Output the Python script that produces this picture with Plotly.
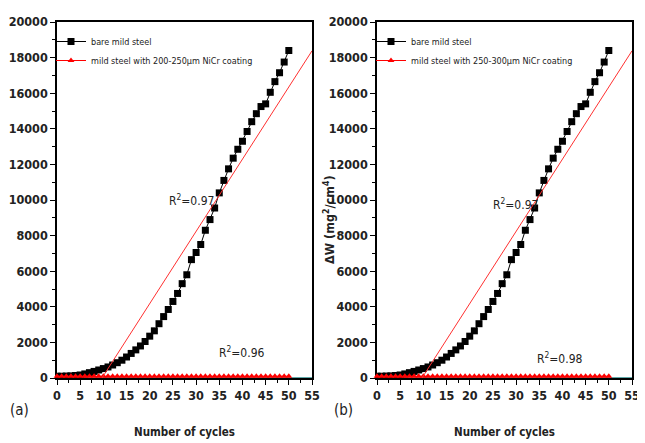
import plotly.graph_objects as go

cycles = list(range(0, 51))
bare = [100, 100, 110, 120, 140, 170, 230, 300, 370, 450,
        530, 620, 730, 860, 1000, 1180, 1380, 1580, 1800, 2050,
        2350, 2650, 3050, 3450, 3850, 4300, 4750, 5300, 5800, 6650,
        7050, 7500, 8300, 8900, 9550, 10400, 11100, 11750, 12350, 12850,
        13300, 13850, 14400, 14850, 15250, 15400, 16050, 16650, 17150, 17750,
        18400]
coated = [100] * 51
fit_bare_x = [9.7, 55]
fit_bare_y = [0, 18380]
fit_coat_x = [0, 55]
fit_coat_y = [0, 0]
labels = ["mild steel with 200-250μm NiCr coating", "mild steel with 250-300μm NiCr coating"]
r2_bare = ["R<sup>2</sup>=0.97", "R<sup>2</sup>=0.97"]
r2_coat = ["R<sup>2</sup>=0.96", "R<sup>2</sup>=0.98"]
r2_bare_pos = [(29, 10000), (29.8, 9800)]
r2_coat_pos = [(40, 1450), (39.5, 1150)]
panel_tags = ["(a)", "(b)"]

FONT = "DejaVu Sans Condensed, Liberation Sans, Arial"
OFF = 8.0  # page body margin
W = 645.0 - OFF
H = 443.0 - OFF


def px(v):
    return (v - OFF) / W


def py(v):
    return 1 - (v - OFF) / H


xdoms = [[px(57), px(312)], [px(377), px(632)]]
ydom = [py(378), py(22)]

fig = go.Figure()
for i in range(2):
    xa = "x" if i == 0 else "x2"
    ya = "y" if i == 0 else "y2"
    lg = "legend" if i == 0 else "legend2"
    fig.add_trace(go.Scatter(x=fit_coat_x, y=fit_coat_y, mode="lines",
                             line=dict(color="#2a8c8c", width=1.5), showlegend=False,
                             xaxis=xa, yaxis=ya, cliponaxis=False))
    fig.add_trace(go.Scatter(x=cycles, y=bare, mode="lines+markers", name="bare mild steel",
                             line=dict(color="black", width=1),
                             marker=dict(symbol="square", size=7, color="black"),
                             xaxis=xa, yaxis=ya, legend=lg))
    fig.add_trace(go.Scatter(x=cycles, y=coated, mode="lines+markers", name=labels[i],
                             line=dict(color="red", width=1),
                             marker=dict(symbol="triangle-up", size=6, color="red"),
                             xaxis=xa, yaxis=ya, legend=lg, cliponaxis=False))
    fig.add_trace(go.Scatter(x=fit_bare_x, y=fit_bare_y, mode="lines",
                             line=dict(color="#ff3030", width=1), showlegend=False,
                             xaxis=xa, yaxis=ya))
    fig.add_annotation(x=r2_bare_pos[i][0], y=r2_bare_pos[i][1], xref=xa, yref=ya,
                       text=r2_bare[i], showarrow=False, xanchor="center",
                       font=dict(family=FONT, size=12, color="#222"))
    fig.add_annotation(x=r2_coat_pos[i][0], y=r2_coat_pos[i][1], xref=xa, yref=ya,
                       text=r2_coat[i], showarrow=False, xanchor="center",
                       font=dict(family=FONT, size=12, color="#222"))
    fig.add_annotation(x=px(20 if i == 0 else 343), y=py(410), xref="paper", yref="paper",
                       text=panel_tags[i], showarrow=False,
                       xanchor="center", yanchor="middle",
                       font=dict(family=FONT, size=15, color="#222"))
    fig.add_annotation(x=(xdoms[i][0] + xdoms[i][1]) / 2, y=py(432), xref="paper", yref="paper",
                       text="<b>Number of cycles</b>", showarrow=False,
                       xanchor="center", yanchor="middle",
                       font=dict(family=FONT, size=11.5, color="#222"))

fig.add_annotation(x=px(329), y=py(220), xref="paper", yref="paper",
                   text="<b>ΔW (mg<sup>2</sup>/cm<sup>4</sup>)</b>", showarrow=False, textangle=-90,
                   xanchor="center", yanchor="middle",
                   font=dict(family=FONT, size=12.5, color="#222"))

axis_common = dict(showline=True, linecolor="black", linewidth=1.5, mirror=True,
                   ticks="outside", ticklen=5, tickwidth=1.2, tickcolor="black",
                   showgrid=False, zeroline=False, automargin=False, layer="below traces",
                   tickfont=dict(family=FONT, size=12.5, color="#222", weight=700))
xaxis_cfg = dict(axis_common, range=[0, 55], dtick=5, tick0=0, tickformat="d",
                 minor=dict(dtick=2.5, ticks="outside", ticklen=3, tickcolor="black"))
yaxis_cfg = dict(axis_common, range=[0, 20000], dtick=2000, tick0=0, tickformat="d",
                 minor=dict(dtick=1000, ticks="outside", ticklen=3, tickcolor="black"))

leg_common = dict(xanchor="left", yanchor="top", bgcolor="rgba(0,0,0,0)",
                  font=dict(family=FONT, size=9, color="#222"),
                  tracegroupgap=0, itemwidth=30)
fig.update_layout(
    width=int(W), height=int(H),
    margin=dict(l=0, r=0, t=0, b=0),
    paper_bgcolor="white", plot_bgcolor="white",
    xaxis=dict(xaxis_cfg, domain=xdoms[0], anchor="y"),
    yaxis=dict(yaxis_cfg, domain=ydom, anchor="x"),
    xaxis2=dict(xaxis_cfg, domain=xdoms[1], anchor="y2"),
    yaxis2=dict(yaxis_cfg, domain=ydom, anchor="x2"),
    legend=dict(leg_common, x=px(51), y=py(27)),
    legend2=dict(leg_common, x=px(371), y=py(27)),
    showlegend=True,
)

fig.write_html("out.html")
